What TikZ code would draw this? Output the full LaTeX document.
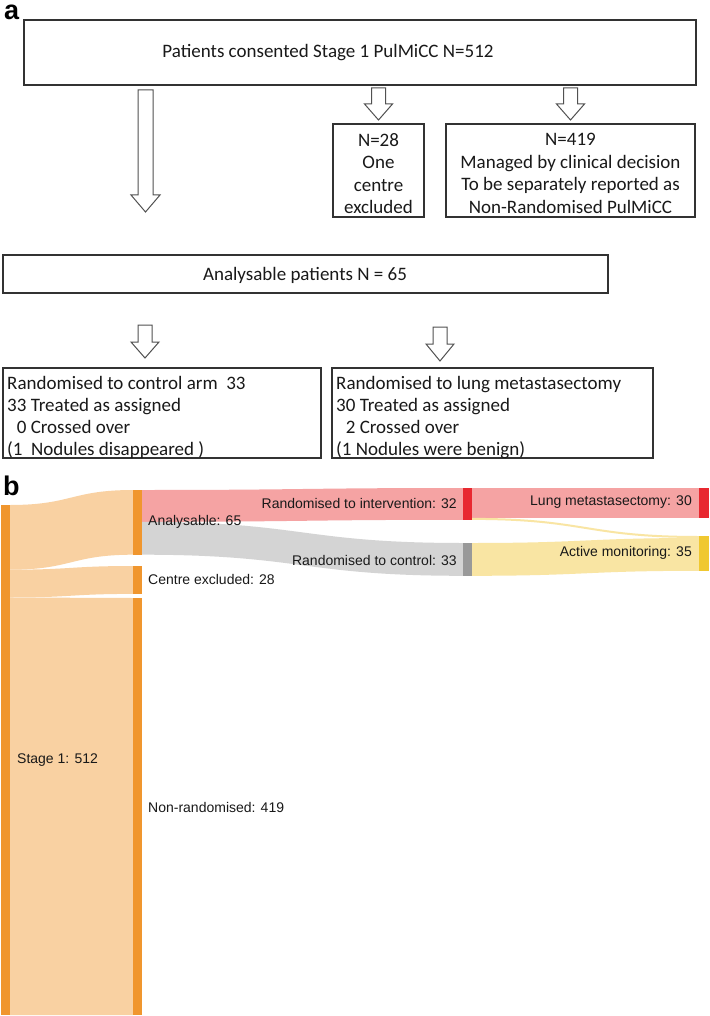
\documentclass[tikz,border=0pt]{standalone}
\usepackage{fontspec}
\setmainfont{Carlito}
\newfontfamily\arialf{Liberation Sans}
\definecolor{obar}{RGB}{240,150,46}
\definecolor{oflow}{RGB}{249,209,162}
\definecolor{rbar}{RGB}{232,40,48}
\definecolor{rflow}{RGB}{245,163,163}
\definecolor{gbar}{RGB}{153,153,153}
\definecolor{gflow}{RGB}{212,212,212}
\definecolor{ybar}{RGB}{240,200,48}
\definecolor{yflow}{RGB}{249,229,163}
\definecolor{boxline}{RGB}{50,50,50}
\definecolor{labtxt}{RGB}{25,25,25}
\newcommand\hollowarrow[6]{%
  \draw[harrow] ({#1-#5},#2) -- ({#1+#5},#2) -- ({#1+#5},#3) -- ({#1+#6},#3) -- (#1,#4) -- ({#1-#6},#3) -- ({#1-#5},#3) -- cycle;}
\newcommand\sflow[7]{%
  \fill[#7] (#1,#2) .. controls ({(#1+#4)/2},#2) and ({(#1+#4)/2},#5) .. (#4,#5) -- (#4,#6) .. controls ({(#1+#4)/2},#6) and ({(#1+#4)/2},#3) .. (#1,#3) -- cycle;}
\tikzset{
  box/.style={draw=boxline, line width=1.2pt, inner sep=0pt, outer sep=0pt, anchor=north west},
  txt/.style={font=\fontsize{19}{22.5}\selectfont, inner sep=0pt, align=center, text=labtxt},
  ltxt/.style={font=\fontsize{19}{22.2}\selectfont, inner sep=0pt, align=left, anchor=north west, text=labtxt},
  barn/.style={inner sep=0pt, outer sep=0pt, anchor=north west, minimum width=9pt},
  slab/.style={font=\arialf\fontsize{14}{16}\selectfont, inner sep=0pt, text=labtxt},
  harrow/.style={draw=boxline!85, fill=white, line width=1pt, line join=miter},
  panel/.style={font=\arialf\bfseries\fontsize{27}{27}\selectfont, inner sep=0pt, anchor=north west}
}
\begin{document}
\begin{tikzpicture}[x=1pt,y=-1pt]
\useasboundingbox[fill=white] (0,0) rectangle (709,1016);
% ---------- panel a ----------
\node[panel] (pa) at (4,5) {a};
\node[box, minimum width=672pt, minimum height=65pt] (top) at (24,20) {};
\node[txt] (topt) at (328,53) {Patients consented Stage 1 PulMiCC N=512};
\hollowarrow{145.5}{90}{195}{212}{7.5}{14.5}
\hollowarrow{378.5}{88}{104}{120}{7}{14}
\hollowarrow{570.5}{88}{104}{120}{7}{14}
\node[box, minimum width=91pt, minimum height=93pt] (b28) at (333,124) {};
\node[txt] (b28t) at ([yshift=-3pt]b28.center) {N=28\\One\\centre\\excluded};
\node[box, minimum width=249pt, minimum height=93pt] (b419) at (446,124) {};
\node[txt] (b419t) at ([yshift=-3pt]b419.center) {N=419\\Managed by clinical decision\\To be separately reported as\\Non-Randomised PulMiCC};
\node[box, minimum width=605pt, minimum height=38pt] (ana) at (3,255) {};
\node[txt] (anat) at (305,275) {Analysable patients N = 65};
\hollowarrow{145}{325}{342}{358}{7}{14}
\hollowarrow{440}{327}{344}{361}{7}{14}
\node[box, minimum width=318pt, minimum height=90pt] (ctl) at (3,368) {};
\node[ltxt] (ctlt) at (7,376) {Randomised to control arm\ \ 33\\33 Treated as assigned\\\phantom{3}0 Crossed over\\(1\ \ Nodules disappeared )};
\node[box, minimum width=321pt, minimum height=90pt] (lm) at (332,368) {};
\node[ltxt] (lmt) at (336,376) {Randomised to lung metastasectomy\\30 Treated as assigned\\\phantom{3}2 Crossed over\\(1 Nodules were benign)};
% ---------- panel b ----------
\node[panel] (pb) at (3,476) {b};
\sflow{10}{505}{569.7}{133}{490}{554.7}{oflow}
\sflow{10}{569.7}{597.5}{133}{566}{593.9}{oflow}
\sflow{10}{597.5}{1015}{133}{598}{1015}{oflow}
\sflow{142}{490}{521.8}{463}{488}{519.8}{rflow}
\sflow{142}{521.8}{554.7}{463}{543}{575.8}{gflow}
\sflow{472}{488}{517.9}{699}{488}{517.9}{rflow}
\sflow{472}{517.9}{519.9}{699}{536}{538}{yflow}
\sflow{472}{543}{575.8}{699}{538}{570.8}{yflow}
\node[barn, fill=obar, minimum height=510pt] (s1) at (1,505) {};
\node[barn, fill=obar, minimum height=64.7pt] (an) at (133,490) {};
\node[barn, fill=obar, minimum height=27.9pt] (ce) at (133,566) {};
\node[barn, fill=obar, minimum height=417pt] (nr) at (133,598) {};
\node[barn, fill=rbar, minimum height=31.8pt] (ri) at (463,488) {};
\node[barn, fill=gbar, minimum height=32.8pt] (rc) at (463,543) {};
\node[barn, fill=rbar, minimum height=29.9pt, minimum width=10pt] (lms) at (699,488) {};
\node[barn, fill=ybar, minimum height=34.8pt, minimum width=10pt] (am) at (699,536) {};
\node[slab, anchor=west] (s1l) at (17,760) {Stage 1: 512};
\node[slab, anchor=west] (anl) at (148,522) {Analysable: 65};
\node[slab, anchor=west] (cel) at (148,579) {Centre excluded: 28};
\node[slab, anchor=west] (nrl) at (148,807) {Non-randomised: 419};
\node[slab, anchor=east] (ril) at (457,503) {Randomised to intervention: 32};
\node[slab, anchor=east] (rcl) at (457,560) {Randomised to control: 33};
\node[slab, anchor=east] (lml) at (692,502) {Lung metastasectomy: 30};
\node[slab, anchor=east] (aml) at (692,553) {Active monitoring: 35};
\end{tikzpicture}
\end{document}
